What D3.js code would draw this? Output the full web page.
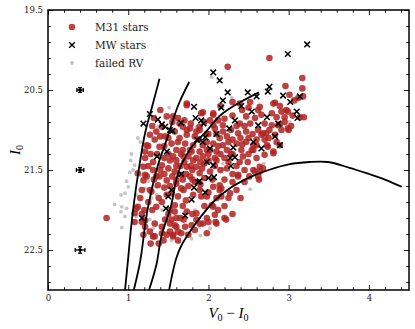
<!DOCTYPE html>
<html>
<head>
<meta charset="utf-8">
<script src="https://cdn.jsdelivr.net/npm/d3@7"></script>
<style>
  body { margin: 0; background: #fff; }
  text { font-family: "DejaVu Serif", serif; }
</style>
</head>
<body>
<script>
// M31 stars (V0-I0, I0)
var m31 = [
  [2.76,20.10],[2.24,20.21],[3.17,20.35],[3.17,20.48],[3.18,20.58],[2.96,20.45],[3.01,20.56],[3.07,20.63],[3.12,20.60],[0.73,22.10],
  [2.83,20.66],[2.89,20.70],[2.91,20.77],[2.99,20.77],[2.79,20.79],[2.95,20.84],[2.85,20.84],[3.19,20.84],[3.14,20.84],[3.03,20.95],
  [3.00,21.00],[2.87,20.94],[2.79,20.94],[2.72,21.04],[2.83,21.06],[2.91,21.00],[2.74,21.21],[2.85,21.15],[2.81,20.67],[2.97,20.75],
  [2.89,20.93],[2.99,20.98],[2.76,21.00],[2.68,21.04],[2.73,21.19],[2.81,21.27],[2.70,21.31],[2.89,21.19],[2.81,21.29],[2.64,20.71],[2.62,20.75],
  [1.73,20.67],[1.93,20.78],[2.06,20.81],[2.39,20.67],[2.52,20.65],[2.66,20.81],[2.47,20.83],[2.58,20.85],[2.39,20.92],[2.18,20.94],
  [2.08,20.98],[1.89,21.00],[1.77,20.98],[1.68,20.96],[1.73,21.06],[1.83,21.08],[2.14,21.10],[2.23,21.08],[2.37,21.04],[2.47,21.02],
  [2.66,21.06],[2.60,21.12],[2.47,21.15],[2.35,21.17],[2.18,21.19],[2.06,21.17],[1.93,21.19],[1.81,21.19],[1.71,21.17],[1.68,21.25],
  [1.79,21.27],[1.89,21.27],[2.10,21.27],[2.23,21.25],[2.41,21.25],[2.54,21.25],[2.60,21.19],
  [2.56,21.25],[2.60,21.35],[2.49,21.40],[2.39,21.40],[2.37,21.56],[2.45,21.50],[2.64,21.46],[2.58,21.52],[2.68,21.48],[2.64,21.52],
  [2.63,21.62],[2.51,21.58],[2.37,21.58],[2.43,21.33],[2.56,21.19],[2.23,21.48],[2.35,21.75],[2.25,21.85],[2.14,21.75],[2.12,22.00],
  [2.04,21.94],[1.98,22.10],[2.09,22.15],[2.22,22.12],[1.93,22.17],
  [2.56,21.50],[2.62,21.58],[2.14,21.69],[2.16,21.73],[1.91,21.83],[2.16,21.83],[2.27,21.79],[2.06,21.96],[2.08,22.06],[2.20,22.10],
  [2.00,22.15],[2.10,22.17],[1.85,22.12],[1.79,22.19],[1.71,22.21],[1.83,22.25],[1.75,22.31],[1.98,22.29],
  [1.19,21.46],[1.21,21.56],[1.31,21.40],[1.31,21.50],[1.17,21.75],[1.10,21.98],[1.08,22.15],[1.17,22.15],[1.21,22.21],[1.19,22.31],
  [1.27,22.27],[1.31,22.33],[1.42,22.29],[1.48,22.31],[1.46,22.12],[1.52,22.17],[1.58,22.19],[1.56,22.31],[1.62,22.27],[1.60,22.10],
  [1.52,22.00],[1.58,21.94],[1.42,21.90],[1.35,21.96],[1.48,21.81],[1.54,21.79],[1.62,21.83],[1.60,21.67],[1.48,21.63],[1.39,21.58],
  [1.37,21.69],[1.29,21.77],[1.42,21.44],[1.50,21.48],[1.58,21.52],[1.52,21.38],[1.60,21.38],[1.21,21.35],[1.66,21.73],[1.66,21.56],
  [1.27,21.06],[1.23,21.19],[1.21,21.27],[1.33,21.12],[1.39,21.21],[1.36,21.30],[1.46,21.08],[1.48,20.83],[1.56,20.83],[1.64,20.92],
  [1.73,21.00],[1.54,21.17],[1.60,21.25],[1.64,21.10],[1.56,21.33],[1.69,21.33],[1.77,21.25],[1.81,21.38],[1.73,21.46],[1.85,21.46],
  [1.93,21.33],[2.02,21.25],[1.98,21.05],[1.89,20.96],[2.06,20.94],[1.73,20.69],[1.91,20.79],[2.06,20.79],[1.42,20.96],[1.12,21.54],
  [1.19,21.63],[1.23,21.58],[1.35,21.58],[1.27,21.75],[1.12,21.96],[1.08,22.04],[1.17,22.05],[1.21,22.13],[1.33,22.17],[1.42,22.21],
  [1.52,22.27],[1.60,22.21],[1.66,22.29],[1.33,22.33],[1.44,22.38],[1.56,22.33],[1.85,22.04],[1.89,22.17],[1.73,22.02],[1.58,22.02],
  [1.54,22.12],[1.69,22.12],[1.81,21.81],[1.98,21.83],[2.06,21.71],[1.89,21.75],[1.69,21.75],[1.60,21.63],[1.77,21.58],[1.89,21.54],
  [2.02,21.52],[2.10,21.38],
  [1.30,20.95],[1.35,21.02],[1.40,21.08],[1.50,21.10],[1.58,21.02],[1.45,21.20],[1.50,21.30],[1.62,21.15],
  [1.70,21.40],[1.78,21.45],[1.85,21.35],[1.95,21.42],[2.00,21.30],[2.08,21.45],[2.15,21.50],[2.20,21.35],[2.28,21.30],[2.30,21.55],
  [1.95,21.60],[1.83,21.65],[1.75,21.70],[2.05,21.62],[2.20,21.62],[1.88,21.12],[1.98,21.15],[2.12,21.20],[2.30,21.12],[1.65,21.45],
  [1.72,21.55],[1.80,21.50],[1.92,21.48],[2.00,21.38],[2.10,21.05],[1.85,21.02],[2.28,21.00],[2.40,21.10],[2.50,21.30],[2.35,21.45],
  [1.55,20.90],[1.62,20.85],[1.70,20.88],[1.78,20.92],[1.95,20.90],[2.02,20.88],[2.12,20.88],[2.20,20.86],[2.30,20.82],[2.35,20.95],
  [2.45,20.95],[2.52,20.92],[2.55,21.05],[2.62,21.00],[2.70,21.12],[2.50,21.10],[2.42,21.18],[2.30,21.30],[2.25,21.40],[2.15,21.30],
  [2.08,21.35],[1.98,21.25],[1.90,21.40],[1.75,21.33],[1.66,21.30],[1.60,21.45],[1.55,21.58],[1.68,21.62],[1.80,21.62],[1.90,21.68],
  [2.00,21.78],[2.10,21.85],[2.20,21.95],[2.30,21.65],[2.45,21.65],[2.40,21.85],[2.30,22.05],[1.95,21.95],[1.80,22.05],[1.68,21.95],
  [1.65,22.10],[1.50,22.05],[1.45,21.72],[1.38,21.85],[1.30,22.00],[1.25,21.90],[1.20,22.00],[1.15,21.85],[1.25,21.45],[1.28,21.30],
  [1.45,21.35],[1.40,21.50],[1.32,21.62],[1.45,21.55],[1.52,21.70],[1.72,21.88],[1.62,22.38],[1.38,22.42],[1.28,22.42],[1.25,21.20],
  [1.32,20.85],[1.40,20.75],[2.00,21.05],[2.18,21.02],[2.25,21.15],[2.70,20.92],[2.75,21.10],[2.95,20.90],[3.05,20.82],[2.42,20.75],
  [2.30,20.65],[2.50,20.72],[2.15,20.70]
];

// Milky Way foreground stars
var mw = [
  [3.23,19.93],[2.99,20.05],[2.06,20.28],[2.14,20.38],[2.24,20.53],[2.49,20.53],[2.60,20.58],[2.76,20.46],[2.74,20.52],[2.93,20.57],
  [3.02,20.65],[3.14,20.58],[3.10,20.77],[3.11,20.85],[2.87,20.92],[2.73,20.84],[2.62,20.94],[2.83,21.08],[2.89,21.19],[2.18,20.63],
  [2.16,20.72],[2.41,20.70],[2.54,20.77],[1.82,20.71],[1.84,20.85],[1.91,20.88],[1.94,20.92],[2.33,20.88],[2.26,20.98],[1.96,21.09],
  [2.10,21.05],[2.02,21.23],[2.31,21.22],[2.56,21.15],[2.66,21.23],[1.86,21.12],[1.66,20.91],[2.27,21.35],[2.33,21.34],[2.28,21.45],
  [2.06,21.44],[1.27,20.80],[1.19,20.92],[1.37,20.87],[1.42,20.93],[1.46,20.96],[1.52,21.00],[1.55,21.01],[1.48,21.27],[1.36,21.33],
  [1.93,21.15],[1.98,21.40],[2.00,21.60],[1.87,21.65],[1.82,21.72],[1.66,21.55],[1.54,21.75],[1.50,21.83],[1.47,21.98],[1.79,21.87],
  [1.71,22.07],[1.17,22.10],[1.89,21.64],[2.07,21.59],[1.96,21.78]
];

// failed radial velocity
var failed = [
  [1.03,21.38],[1.08,21.44],[1.02,21.53],[1.06,21.50],[0.98,21.64],[1.00,21.71],[0.96,21.79],[0.91,21.81],[0.83,21.93],[0.92,21.96],
  [0.98,21.98],[0.91,22.02],[0.96,22.08],[0.92,22.22],[1.10,22.08],[1.06,22.15],[1.27,22.12],[1.35,22.19],[1.31,22.23],[1.42,22.00],
  [1.10,21.81],[1.21,21.73],[1.29,21.85],[1.15,21.56],[1.25,21.64],[1.35,21.71],[1.17,21.44],[1.12,21.10],[1.15,21.15],[1.04,21.30],
  [1.31,21.71],[1.35,21.81],[1.54,22.38],[1.93,22.17],[1.79,22.36],[2.18,21.49],[1.71,21.71],[1.91,21.75],[2.52,21.74],[1.83,22.00],
  [1.89,22.21],[2.02,22.23],[1.71,22.29],[1.64,22.40],[2.69,21.42],[2.04,20.34],[2.29,20.60],[1.85,20.96],[3.01,20.90],[2.18,21.42],
  [1.51,20.72],[1.37,20.96],[1.42,20.96],[1.90,22.32]
];

// typical errors: [x, I0, xerr, yerr]
var errBars = [[0.4,20.5,0.04,0.03],[0.4,21.5,0.046,0.03],[0.4,22.5,0.06,0.04]];

// isochrones / boundaries
var iso1 = [[0.96,23.0],[0.99,22.7],[1.06,22.0],[1.14,21.44],[1.21,21.04],[1.30,20.7],[1.39,20.36]];
var iso2 = [[1.07,23.0],[1.14,22.69],[1.24,22.0],[1.37,21.44],[1.48,21.12],[1.64,20.65],[1.76,20.4]];
var iso3 = [[1.26,23.0],[1.35,22.69],[1.42,22.3],[1.52,22.0],[1.66,21.44],[1.80,21.2],[1.97,21.02],[2.18,20.79],[2.40,20.65],[2.63,20.53]];
var iso4 = [[1.51,23.0],[1.55,22.8],[1.60,22.6],[1.66,22.45],[1.77,22.27],[1.87,22.13],[2.06,21.9],[2.28,21.72],[2.54,21.58],
            [2.75,21.5],[3.0,21.43],[3.26,21.40],[3.49,21.40],[3.75,21.47],[3.97,21.54],[4.2,21.62],[4.41,21.71]];

var xMajor = [0, 1, 2, 3, 4],
    yMajor = [19.5, 20.5, 21.5, 22.5];

var width = 415, height = 329,
    margin = {top: 10, right: 6, bottom: 39, left: 48};

var svg = d3.select("body").append("svg")
    .attr("width", width)
    .attr("height", height);

var x = d3.scaleLinear().domain([0, 4.5]).range([margin.left, width - margin.right]),
    y = d3.scaleLinear().domain([19.5, 23]).range([margin.top, height - margin.bottom]);

var xMinor = d3.range(0, 4.5, 0.2).filter(function(v) { return Math.abs(v - Math.round(v)) > 1e-6; }),
    yMinor = d3.range(19.7, 23, 0.2).filter(function(v) { return Math.abs(v - 0.5 - Math.round(v - 0.5)) > 1e-6; });

var plot = svg.append("g");
plot.append("clipPath").attr("id", "clip")
  .append("rect")
    .attr("x", x(0)).attr("y", y(19.5))
    .attr("width", x(4.5) - x(0)).attr("height", y(23) - y(19.5));

var body = plot.append("g").attr("clip-path", "url(#clip)");

// failed RV
body.selectAll("circle.failed").data(failed).enter().append("circle")
    .attr("class", "failed")
    .attr("cx", function(d) { return x(d[0]); })
    .attr("cy", function(d) { return y(d[1]); })
    .attr("r", 1.9)
    .attr("fill", "#c4c4c4");

// M31
body.selectAll("circle.m31").data(m31).enter().append("circle")
    .attr("class", "m31")
    .attr("cx", function(d) { return x(d[0]); })
    .attr("cy", function(d) { return y(d[1]); })
    .attr("r", 3.3)
    .attr("fill", "#b22222")
    .attr("fill-opacity", 0.85);

// MW crosses
var cross = function(s) { return "M" + (-s) + "," + (-s) + "L" + s + "," + s + "M" + (-s) + "," + s + "L" + s + "," + (-s); };
body.selectAll("path.mw").data(mw).enter().append("path")
    .attr("class", "mw")
    .attr("transform", function(d) { return "translate(" + x(d[0]) + "," + y(d[1]) + ")"; })
    .attr("d", cross(2.8))
    .attr("stroke", "#000")
    .attr("stroke-width", 1.5)
    .attr("fill", "none");

// lines
var line = d3.line()
    .x(function(d) { return x(d[0]); })
    .y(function(d) { return y(d[1]); })
    .curve(d3.curveMonotoneY);
[iso1, iso2, iso3].forEach(function(c) {
  body.append("path").datum(c)
      .attr("d", line)
      .attr("fill", "none")
      .attr("stroke", "#000")
      .attr("stroke-width", 1.8);
});
body.append("path").datum(iso4)
    .attr("d", line.curve(d3.curveCatmullRom))
    .attr("fill", "none")
    .attr("stroke", "#000")
    .attr("stroke-width", 1.8);

// error bars
var eb = body.selectAll("g.err").data(errBars).enter().append("g").attr("class", "err");
eb.append("line")
    .attr("x1", function(d) { return x(d[0] - d[2]); })
    .attr("x2", function(d) { return x(d[0] + d[2]); })
    .attr("y1", function(d) { return y(d[1]); })
    .attr("y2", function(d) { return y(d[1]); });
eb.append("line")
    .attr("x1", function(d) { return x(d[0]); })
    .attr("x2", function(d) { return x(d[0]); })
    .attr("y1", function(d) { return y(d[1] - d[3]); })
    .attr("y2", function(d) { return y(d[1] + d[3]); });
eb.append("line")
    .attr("x1", function(d) { return x(d[0] - d[2]); })
    .attr("x2", function(d) { return x(d[0] - d[2]); })
    .attr("y1", function(d) { return y(d[1]) - 2; })
    .attr("y2", function(d) { return y(d[1]) + 2; });
eb.append("line")
    .attr("x1", function(d) { return x(d[0] + d[2]); })
    .attr("x2", function(d) { return x(d[0] + d[2]); })
    .attr("y1", function(d) { return y(d[1]) - 2; })
    .attr("y2", function(d) { return y(d[1]) + 2; });
eb.append("line")
    .attr("x1", function(d) { return x(d[0]) - 2; })
    .attr("x2", function(d) { return x(d[0]) + 2; })
    .attr("y1", function(d) { return y(d[1] - d[3]); })
    .attr("y2", function(d) { return y(d[1] - d[3]); });
eb.append("line")
    .attr("x1", function(d) { return x(d[0]) - 2; })
    .attr("x2", function(d) { return x(d[0]) + 2; })
    .attr("y1", function(d) { return y(d[1] + d[3]); })
    .attr("y2", function(d) { return y(d[1] + d[3]); });
eb.selectAll("line").attr("stroke", "#000").attr("stroke-width", 1.3);
eb.append("circle")
    .attr("cx", function(d) { return x(d[0]); })
    .attr("cy", function(d) { return y(d[1]); })
    .attr("r", 1.8)
    .attr("fill", "#000");

// axes, ticks pointing inward on all sides
function styleAxis(g) {
  g.select(".domain").remove();
  g.selectAll("line").attr("stroke", "#000").attr("stroke-width", 0.9);
  g.selectAll("text").attr("fill", "#222").style("font-size", "8.5px").style("font-family", "DejaVu Serif, serif");
}
var fmtY = d3.format(".1f");

svg.append("g").attr("transform", "translate(0," + y(23) + ")")
    .call(d3.axisBottom(x).tickValues(xMajor).tickSize(-5).tickPadding(5).tickFormat(d3.format("d")))
    .call(styleAxis);
svg.append("g").attr("transform", "translate(0," + y(23) + ")")
    .call(d3.axisBottom(x).tickValues(xMinor).tickSize(-2.8).tickFormat(""))
    .call(styleAxis);
svg.append("g").attr("transform", "translate(0," + y(19.5) + ")")
    .call(d3.axisTop(x).tickValues(xMajor).tickSize(-5).tickFormat(""))
    .call(styleAxis);
svg.append("g").attr("transform", "translate(0," + y(19.5) + ")")
    .call(d3.axisTop(x).tickValues(xMinor).tickSize(-2.8).tickFormat(""))
    .call(styleAxis);

svg.append("g").attr("transform", "translate(" + x(0) + ",0)")
    .call(d3.axisLeft(y).tickValues(yMajor).tickSize(-5).tickPadding(5).tickFormat(fmtY))
    .call(styleAxis);
svg.append("g").attr("transform", "translate(" + x(0) + ",0)")
    .call(d3.axisLeft(y).tickValues(yMinor).tickSize(-2.8).tickFormat(""))
    .call(styleAxis);
svg.append("g").attr("transform", "translate(" + x(4.5) + ",0)")
    .call(d3.axisRight(y).tickValues(yMajor).tickSize(-5).tickFormat(""))
    .call(styleAxis);
svg.append("g").attr("transform", "translate(" + x(4.5) + ",0)")
    .call(d3.axisRight(y).tickValues(yMinor).tickSize(-2.8).tickFormat(""))
    .call(styleAxis);

// frame
svg.append("rect")
    .attr("x", x(0)).attr("y", y(19.5))
    .attr("width", x(4.5) - x(0)).attr("height", y(23) - y(19.5))
    .attr("fill", "none")
    .attr("stroke", "#000")
    .attr("stroke-width", 1.5);

// axis labels
var xl = svg.append("text")
    .attr("x", (x(0) + x(4.5)) / 2)
    .attr("y", 318)
    .attr("text-anchor", "middle")
    .style("font-family", "Liberation Serif, serif")
    .style("font-size", "15px");
xl.append("tspan").style("font-style", "italic").text("V");
xl.append("tspan").attr("dy", 3).style("font-size", "10px").text("0");
xl.append("tspan").attr("dy", -3).text(" \u2212 ");
xl.append("tspan").style("font-style", "italic").text("I");
xl.append("tspan").attr("dy", 3).style("font-size", "10px").text("0");

var yl = svg.append("text")
    .attr("transform", "translate(20," + ((y(19.5) + y(23)) / 2) + ") rotate(-90)")
    .attr("text-anchor", "middle")
    .style("font-family", "Liberation Serif, serif")
    .style("font-size", "15px");
yl.append("tspan").style("font-style", "italic").text("I");
yl.append("tspan").attr("dy", 3).style("font-size", "10px").text("0");

// legend
var legend = svg.append("g");
legend.append("circle").attr("cx", 72).attr("cy", 27).attr("r", 3.3).attr("fill", "#b22222").attr("fill-opacity", 0.85);
legend.append("path").attr("transform", "translate(72,45)").attr("d", cross(2.8))
    .attr("stroke", "#000").attr("stroke-width", 1.5);
legend.append("circle").attr("cx", 72).attr("cy", 63).attr("r", 1.9).attr("fill", "#c4c4c4");
legend.selectAll("text.lab").data(["M31 stars", "MW stars", "failed RV"]).enter().append("text")
    .attr("class", "lab")
    .attr("x", 95)
    .attr("y", function(d, i) { return 31 + i * 18; })
    .style("font-size", "10.5px")
    .attr("fill", "#222")
    .text(function(d) { return d; });
</script>
</body>
</html>
